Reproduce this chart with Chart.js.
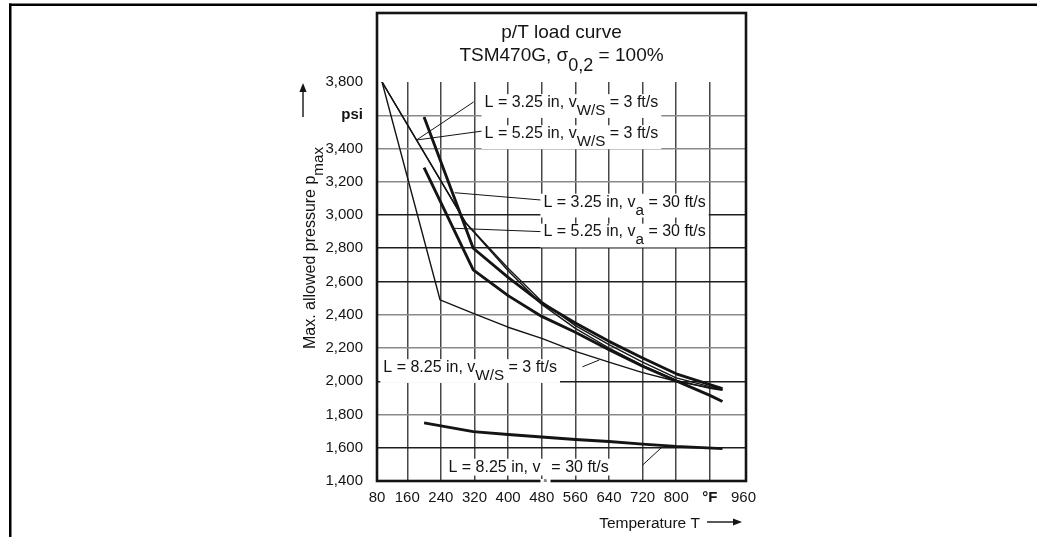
<!DOCTYPE html>
<html><head><meta charset="utf-8">
<script src="https://cdn.jsdelivr.net/npm/chart.js@4.4.0/dist/chart.umd.min.js"></script>
<style>html,body{margin:0;padding:0;background:#fff;}canvas{display:block;}</style>
</head><body>
<canvas id="c" width="1037" height="537"></canvas>
<script>
// ---------- data ----------
// L = 3.25 in, vW/S = 3 ft/s (thin)
const t325ws = [100, 300, 400, 480, 560, 640, 720, 800, 880, 910];
const p325ws = [3800, 2950, 2680, 2480, 2335, 2220, 2115, 2020, 1968, 1952];
// L = 5.25 in, vW/S = 3 ft/s (thin)
const t525ws = [100, 300, 400, 480, 560, 640, 720, 800, 880, 910];
const p525ws = [3800, 2950, 2665, 2462, 2318, 2200, 2095, 2005, 1958, 1946];
// L = 3.25 in, va = 30 ft/s (thick)
const t325a = [200, 317, 400, 480, 560, 640, 720, 800, 880, 910];
const p325a = [3590, 2800, 2625, 2470, 2350, 2240, 2140, 2045, 1980, 1955];
// L = 5.25 in, va = 30 ft/s (thick)
const t525a = [200, 317, 400, 480, 560, 640, 720, 800, 880, 910];
const p525a = [3285, 2670, 2515, 2390, 2295, 2190, 2090, 2002, 1915, 1878];
// L = 8.25 in, vW/S = 3 ft/s (thin)
const t825ws = [100, 238, 320, 400, 480, 560, 640, 720, 800, 880, 910];
const p825ws = [3800, 2490, 2405, 2325, 2258, 2180, 2115, 2052, 2000, 1962, 1950];
// L = 8.25 in, va = 30 ft/s (thick)
const t825a = [200, 317, 400, 480, 560, 640, 720, 800, 910];
const p825a = [1750, 1697, 1680, 1665, 1650, 1638, 1622, 1608, 1595];

const xTickValues = [80, 160, 240, 320, 400, 480, 560, 640, 720, 800, 880, 960];
const xTickLabels = ['80', '160', '240', '320', '400', '480', '560', '640', '720', '800', '°F', '960'];
const yTickValues = [1400, 1600, 1800, 2000, 2200, 2400, 2600, 2800, 3000, 3200, 3400, 3600, 3800];
const yTickLabels = ['1,400', '1,600', '1,800', '2,000', '2,200', '2,400', '2,600', '2,800', '3,000', '3,200', '3,400', 'psi', '3,800'];

// ---------- styling ----------
const FONT = '"Liberation Sans", Arial, Helvetica, sans-serif';
const INK = '#141414';
const darkH = new Set([1600, 2000, 2600, 2800, 3000]);

const zip = (t, p) => t.map((v, i) => ({ x: v, y: p[i] }));
const thin = 1.4, thick = 2.9;
const mk = (label, t, p, w) => ({
  label, data: zip(t, p), borderColor: INK, borderWidth: w,
  pointRadius: 0, tension: 0, fill: false, borderJoinStyle: 'round', borderCapStyle: 'butt'
});

// leader-line labels in data coordinates
const labels = [
  { parts: [['L = 3.25 in, v'], ['W/S', 1], [' = 3 ft/s']], at: [344, 3650], from: [318, 3680], to: [182, 3451] },
  { parts: [['L = 5.25 in, v'], ['W/S', 1], [' = 3 ft/s']], at: [344, 3463], from: [339, 3505], to: [182, 3451] },
  { parts: [['L = 3.25 in, v'], ['a', 1], [' = 30 ft/s']], at: [484, 3051], from: [479, 3090], to: [273, 3134] },
  { parts: [['L = 5.25 in, v'], ['a', 1], [' = 30 ft/s']], at: [484, 2871], from: [479, 2900], to: [273, 2920] },
  { parts: [['L = 8.25 in, v'], ['W/S', 1], [' = 3 ft/s']], at: [103, 2056], from: [577, 2087], to: [617, 2128] },
  { parts: [['L = 8.25 in, v'], ['\u2009\u2009', 0], [' = 30 ft/s']], at: [258, 1457], from: [720, 1496], to: [767, 1606], tinySub: 'a' }
];

function drawRich(ctx, x, y, parts, size, align, bg) {
  const sub = size * 0.95, shift = size * 0.5;
  let w = 0, hasSub = false;
  parts.forEach(p => { ctx.font = `${p[1] ? sub : size}px ${FONT}`; w += ctx.measureText(p[0]).width; if (p[1]) hasSub = true; });
  let sx = align === 'center' ? x - w / 2 : x;
  if (bg) {
    ctx.fillStyle = '#fff';
    ctx.fillRect(sx - 3, y - size * 0.8, w + 6, size * 0.8 + (hasSub ? shift + 3 : 4));
  }
  ctx.fillStyle = INK; ctx.textAlign = 'left'; ctx.textBaseline = 'alphabetic';
  parts.forEach(p => {
    ctx.font = `${p[1] ? sub : size}px ${FONT}`;
    ctx.fillText(p[0], sx, y + (p[1] ? shift : 0));
    sx += ctx.measureText(p[0]).width;
  });
  return { x0: x, w };
}

function arrow(ctx, x1, y1, x2, y2) {
  const a = Math.atan2(y2 - y1, x2 - x1), L = 9, H = 3.6;
  ctx.beginPath(); ctx.moveTo(x1, y1); ctx.lineTo(x2 - L * Math.cos(a) * 0.6, y2 - L * Math.sin(a) * 0.6); ctx.stroke();
  ctx.beginPath();
  ctx.moveTo(x2, y2);
  ctx.lineTo(x2 - L * Math.cos(a) + H * Math.sin(a), y2 - L * Math.sin(a) - H * Math.cos(a));
  ctx.lineTo(x2 - L * Math.cos(a) - H * Math.sin(a), y2 - L * Math.sin(a) + H * Math.cos(a));
  ctx.closePath(); ctx.fill();
}

const decor = {
  id: 'decor',
  afterDatasetsDraw(chart) {
    const { ctx, chartArea: ca } = chart;
    const xs = chart.scales.x, ys = chart.scales.y;
    const X = v => xs.getPixelForValue(v), Y = v => ys.getPixelForValue(v);
    ctx.save();
    // page frame
    ctx.fillStyle = '#000';
    ctx.fillRect(9, 3.5, 1028, 2.5);
    ctx.fillRect(9, 3.5, 2.5, 534);
    // chart box
    ctx.strokeStyle = INK; ctx.lineWidth = 2.6;
    ctx.strokeRect(ca.left, 13, ca.right - ca.left, ca.bottom - 13);
    // title
    drawRich(ctx, (ca.left + ca.right) / 2, 38, [['p/T load curve']], 19, 'center', false);
    drawRich(ctx, (ca.left + ca.right) / 2, 61, [['TSM470G, \u03c3'], ['0,2', 1], [' = 100%']], 19, 'center', false);
    // leader lines
    ctx.strokeStyle = INK; ctx.lineWidth = 1;
    labels.forEach(l => {
      ctx.beginPath(); ctx.moveTo(X(l.from[0]), Y(l.from[1])); ctx.lineTo(X(l.to[0]), Y(l.to[1])); ctx.stroke();
    });
    // label texts with white background
    labels.forEach(l => {
      drawRich(ctx, X(l.at[0]), Y(l.at[1]), l.parts, 16, 'left', true);
      if (l.tinySub) {
        ctx.font = `16px ${FONT}`;
        const vx = X(l.at[0]) + ctx.measureText('L = 8.25 in, v').width;
        ctx.fillStyle = '#fff'; ctx.fillRect(vx, ca.bottom - 2, 10, 4);
        ctx.fillStyle = INK; ctx.font = `6px ${FONT}`;
        ctx.fillText(l.tinySub, vx + 3, ca.bottom + 1);
      }
    });
    // y axis title (rotated) and arrow
    ctx.save();
    ctx.translate(315, 248);
    ctx.rotate(-Math.PI / 2);
    drawRich(ctx, 0, 0, [['Max. allowed pressure p'], ['max', 1]], 16, 'center', false);
    ctx.restore();
    ctx.strokeStyle = INK; ctx.fillStyle = INK; ctx.lineWidth = 1.4;
    arrow(ctx, 303, 117, 303, 83);
    // x axis title and arrow
    ctx.font = `15.5px ${FONT}`;
    ctx.textAlign = 'right'; ctx.textBaseline = 'alphabetic'; ctx.fillStyle = INK;
    ctx.fillText('Temperature T', 700, 528);
    arrow(ctx, 707, 522, 742, 522);
    ctx.restore();
  }
};

new Chart(document.getElementById('c'), {
  type: 'line',
  data: {
    datasets: [
      mk('L = 3.25 in, vW/S = 3 ft/s', t325ws, p325ws, thin),
      mk('L = 5.25 in, vW/S = 3 ft/s', t525ws, p525ws, thin),
      mk('L = 3.25 in, va = 30 ft/s', t325a, p325a, thick),
      mk('L = 5.25 in, va = 30 ft/s', t525a, p525a, thick),
      mk('L = 8.25 in, vW/S = 3 ft/s', t825ws, p825ws, thin),
      mk('L = 8.25 in, va = 30 ft/s', t825a, p825a, thick)
    ]
  },
  options: {
    responsive: false,
    animation: false,
    devicePixelRatio: 1,
    layout: { padding: { left: 0, right: 291, top: 82, bottom: 0 } },
    plugins: { legend: { display: false }, title: { display: false }, tooltip: { enabled: false } },
    scales: {
      x: {
        type: 'linear', min: 88, max: 966,
        afterBuildTicks: s => { s.ticks = xTickValues.map(v => ({ value: Math.max(v, s.min) })); },
        afterFit: s => { s.height = 56; },
        border: { display: false },
        grid: {
          drawTicks: false, lineWidth: 1.5,
          color: c => (c.tick && (c.tick.value <= 88 || c.tick.value >= 960)) ? 'rgba(0,0,0,0)' : '#474747'
        },
        ticks: {
          padding: 8, color: INK, maxRotation: 0, autoSkip: false,
          font: c => ({ family: FONT, size: 15, weight: (c.index === 10 ? 'bold' : 'normal') }),
          callback: (v, i) => xTickLabels[i]
        }
      },
      y: {
        type: 'linear', min: 1400, max: 3800,
        afterBuildTicks: s => { s.ticks = yTickValues.map(v => ({ value: v })); },
        afterFit: s => { s.width = 377; },
        border: { display: false },
        grid: {
          drawTicks: false, lineWidth: 1.5,
          color: c => {
            const v = c.tick ? c.tick.value : 0;
            if (v <= 1400 || v >= 3800) return 'rgba(0,0,0,0)';
            return darkH.has(v) ? '#1e1e1e' : '#8a8a8a';
          }
        },
        ticks: {
          padding: 14, color: INK, autoSkip: false,
          font: c => ({ family: FONT, size: 15, weight: (c.index === 11 ? 'bold' : 'normal') }),
          callback: (v, i) => yTickLabels[i]
        }
      }
    }
  },
  plugins: [decor]
});
</script>
</body></html>
